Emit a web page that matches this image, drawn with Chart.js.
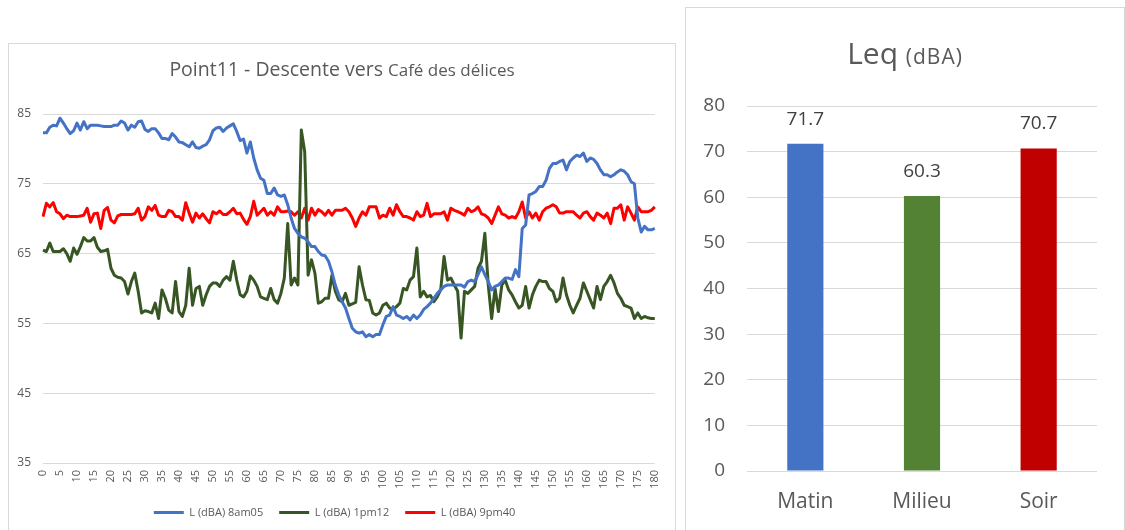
<!DOCTYPE html>
<html>
<head>
<meta charset="utf-8">
<script src="https://cdn.jsdelivr.net/npm/chart.js@4.4.1/dist/chart.umd.min.js"></script>
<style>
  html, body { margin: 0; padding: 0; background: #fff; overflow: hidden; }
  .panel { position: absolute; border: 1px solid #d9d9d9; background: #fff; }
  #trendBox { left: 8px; top: 43px; width: 666px; height: 486px; }
  #leqBox { left: 685px; top: 7px; width: 438px; height: 522px; }
</style>
</head>
<body>
<div class="panel" id="trendBox"><canvas id="trend"></canvas></div>
<div class="panel" id="leqBox"><canvas id="leq"></canvas></div>
<script>
// minutes along the walk, one reading per minute
const minutes = Array.from({length: 181}, (_, i) => i);

const morning = [
  82.3, 82.3, 83.1, 83.4, 83.3, 84.4, 83.7, 82.9, 82.2, 82.6,
  83.7, 82.7, 83.9, 82.9, 83.4, 83.4, 83.4, 83.3, 83.2, 83.2,
  83.2, 83.4, 83.4, 84.0, 83.7, 82.7, 83.4, 83.1, 83.9, 84.0,
  82.8, 82.5, 82.9, 82.9, 82.3, 81.5, 81.5, 81.3, 82.2, 81.7,
  81.0, 80.9, 80.6, 80.3, 81.0, 80.2, 80.1, 80.4, 80.6, 81.3,
  82.6, 83.0, 83.1, 82.5, 83.0, 83.3, 83.6, 82.5, 81.2, 81.4,
  79.4, 81.0, 78.7, 77.0, 75.8, 75.5, 73.6, 73.6, 74.4, 73.4,
  73.2, 73.4, 72.0, 70.1, 68.6, 67.9, 67.4, 67.2, 66.7, 66.0,
  66.0, 65.3, 64.8, 64.7, 63.9, 62.4, 60.5, 59.1, 58.1, 57.2,
  55.7, 54.3, 53.8, 53.6, 53.8, 53.1, 53.4, 53.1, 53.4, 53.4,
  54.8, 56.0, 56.2, 57.4, 56.2, 56.0, 55.7, 56.0, 55.5, 56.2,
  55.7, 56.2, 57.0, 57.4, 57.9, 58.6, 59.3, 59.8, 60.3, 60.5,
  60.5, 60.5, 60.5, 60.5, 60.2, 61.0, 61.2, 61.0, 62.0, 63.1,
  62.0, 61.0, 59.8, 60.3, 60.5, 61.0, 61.5, 61.5, 61.3, 62.7,
  61.7, 68.6, 69.1, 73.4, 73.6, 73.9, 74.6, 74.6, 75.5, 77.2,
  77.9, 77.9, 78.2, 78.4, 77.0, 78.2, 78.7, 79.1, 78.9, 79.4,
  78.2, 78.7, 78.5, 77.9, 77.0, 76.3, 76.3, 76.0, 76.3, 76.7,
  77.0, 76.8, 76.3, 75.3, 75.0, 70.1, 68.1, 68.9, 68.4, 68.4,
  68.6
];

const midday = [
  65.5, 65.3, 66.5, 65.3, 65.3, 65.3, 65.7, 65.0, 63.9, 65.8,
  64.9, 66.0, 67.3, 66.8, 66.8, 67.3, 65.9, 65.3, 65.4, 65.6,
  62.9, 61.9, 61.6, 61.5, 61.0, 59.2, 61.0, 62.2, 59.6, 56.5,
  56.8, 56.7, 56.5, 57.9, 55.7, 59.8, 58.6, 56.9, 56.5, 61.0,
  56.7, 56.0, 57.6, 62.9, 57.6, 60.0, 60.3, 57.6, 59.1, 60.3,
  60.8, 60.8, 60.3, 61.2, 61.7, 61.2, 63.9, 61.2, 59.1, 58.8,
  59.6, 61.8, 61.2, 60.3, 58.8, 58.6, 58.4, 60.0, 58.4, 57.9,
  59.3, 61.5, 69.3, 60.5, 61.5, 60.5, 82.7, 79.6, 61.9, 64.1,
  62.2, 57.9, 58.1, 58.6, 58.6, 61.9, 59.6, 58.4, 58.1, 59.3,
  57.6, 57.8, 58.0, 63.1, 60.5, 58.4, 58.3, 56.5, 56.2, 56.5,
  57.6, 57.9, 57.2, 57.0, 57.4, 57.9, 60.0, 59.8, 61.2, 61.7,
  65.8, 58.8, 59.6, 58.8, 59.0, 58.1, 58.8, 59.8, 64.6, 61.2,
  61.5, 60.5, 59.6, 52.9, 59.6, 59.3, 59.8, 60.3, 62.9, 63.9,
  67.9, 60.5, 55.7, 60.0, 56.7, 60.5, 61.2, 59.8, 59.1, 58.1,
  57.2, 57.6, 60.3, 57.2, 59.1, 60.3, 61.2, 61.0, 61.0, 60.0,
  59.6, 58.1, 58.6, 61.5, 59.1, 57.6, 56.5, 57.6, 58.6, 60.8,
  59.6, 58.4, 57.2, 60.3, 58.4, 60.3, 61.0, 61.9, 60.8, 59.3,
  58.6, 57.6, 57.4, 57.2, 55.7, 56.5, 55.7, 56.0, 55.8, 55.7,
  55.7
];

const evening = [
  70.3, 72.2, 71.7, 72.3, 71.0, 70.7, 70.0, 70.5, 70.3, 70.3,
  70.3, 70.4, 70.5, 71.5, 69.5, 70.7, 70.8, 68.6, 71.2, 71.6,
  69.8, 69.4, 70.4, 70.6, 70.6, 70.6, 70.6, 70.7, 71.5, 69.8,
  70.3, 71.7, 71.2, 71.9, 70.5, 70.3, 70.3, 71.2, 71.0, 70.3,
  70.3, 69.8, 72.3, 70.8, 69.5, 70.8, 70.1, 70.7, 70.0, 69.4,
  71.0, 70.7, 71.1, 70.6, 70.6, 71.0, 71.5, 70.7, 70.8, 69.9,
  69.2, 70.3, 72.5, 70.5, 71.0, 71.5, 70.5, 71.0, 70.5, 71.7,
  71.0, 71.0, 71.1, 71.0, 70.5, 71.0, 70.1, 71.5, 69.8, 71.5,
  70.5, 71.3, 71.0, 70.5, 71.2, 70.5, 71.2, 71.2, 71.2, 71.5,
  71.0, 70.1, 68.9, 70.1, 71.0, 70.5, 71.7, 71.7, 71.7, 70.1,
  70.5, 70.3, 71.5, 70.5, 72.0, 71.0, 70.3, 70.3, 70.1, 69.8,
  71.0, 70.3, 70.5, 72.2, 70.3, 70.7, 70.7, 70.7, 71.0, 69.8,
  71.5, 71.2, 71.0, 70.8, 70.5, 71.5, 71.0, 71.2, 71.7, 70.7,
  70.5, 70.1, 69.3, 70.5, 71.7, 70.7, 70.5, 70.1, 70.3, 70.1,
  71.0, 72.4, 70.1, 71.0, 70.1, 70.8, 69.8, 71.0, 71.5, 71.7,
  72.0, 71.7, 70.8, 70.8, 71.0, 71.0, 71.0, 70.5, 70.1, 70.8,
  71.0, 70.3, 69.8, 70.8, 70.5, 70.1, 70.8, 69.3, 71.5, 71.5,
  72.0, 69.8, 71.7, 70.8, 69.8, 71.7, 71.0, 71.0, 71.0, 71.2,
  71.7
];

const periods = ['Matin', 'Milieu', 'Soir'];
const leqValues = [71.7, 60.3, 70.7];
const leqColors = ['#4472C4', '#548235', '#C00000'];

const FONT = '"Open Sans", sans-serif';
const TEXT = '#595959';
const GRID = '#d9d9d9';

// title drawn in pieces so each piece can have its own size
const splitTitle = {
  id: 'splitTitle',
  afterDraw(chart, args, opts) {
    const ctx = chart.ctx;
    ctx.save();
    ctx.fillStyle = opts.color;
    ctx.textAlign = 'left';
    ctx.textBaseline = 'alphabetic';
    const setFont = p => {
      ctx.font = p.size + 'px ' + FONT;
      ctx.letterSpacing = (p.spacing || 0) + 'px';
    };
    const widths = opts.parts.map(p => {
      setFont(p);
      return ctx.measureText(p.text).width;
    });
    let x = chart.width / 2 - widths.reduce((a, b) => a + b, 0) / 2;
    opts.parts.forEach((p, i) => {
      setFont(p);
      ctx.fillText(p.text, x, opts.y);
      x += widths[i];
    });
    ctx.restore();
  }
};

const barValues = {
  id: 'barValues',
  afterDatasetsDraw(chart, args, opts) {
    const ctx = chart.ctx;
    const ds = chart.data.datasets[0];
    ctx.save();
    ctx.font = opts.size + 'px ' + FONT;
    ctx.fillStyle = opts.color;
    ctx.textAlign = 'center';
    ctx.textBaseline = 'alphabetic';
    chart.getDatasetMeta(0).data.forEach((bar, i) => {
      ctx.fillText(ds.data[i].toFixed(1), bar.x, bar.y - opts.gap);
    });
    ctx.restore();
  }
};

function series(label, data, color) {
  return {
    label, data,
    borderColor: color,
    backgroundColor: color,
    borderWidth: 3,
    pointRadius: 0,
    tension: 0,
    borderJoinStyle: 'round'
  };
}

new Chart(document.getElementById('trend'), {
  type: 'line',
  data: {
    labels: minutes,
    datasets: [
      series('L (dBA) 8am05', morning, '#4472C4'),
      series('L (dBA) 1pm12', midday, '#375623'),
      series('L (dBA) 9pm40', evening, '#FF0000')
    ]
  },
  plugins: [splitTitle],
  options: {
    responsive: true,
    maintainAspectRatio: false,
    animation: false,
    layout: { padding: { top: 70, right: 15, left: 0, bottom: 2 } },
    scales: {
      x: {
        offset: false,
        grid: { display: false, drawTicks: false },
        border: { display: false },
        ticks: {
          autoSkip: false,
          minRotation: 90,
          maxRotation: 90,
          padding: 7,
          color: TEXT,
          font: { family: FONT, size: 11 },
          callback: (v, i) => (i % 5 === 0 ? String(minutes[i]) : '')
        },
        afterFit: s => { s.height = 28; }
      },
      y: {
        min: 35,
        max: 85,
        grid: { color: GRID, drawTicks: false },
        border: { display: false },
        ticks: { stepSize: 10, padding: 12, color: TEXT, font: { family: FONT, size: 12 } },
        afterFit: s => { s.width = 34; }
      }
    },
    plugins: {
      tooltip: { enabled: false },
      legend: {
        position: 'bottom',
        labels: {
          usePointStyle: true,
          pointStyle: 'line',
          pointStyleWidth: 30,
          padding: 16,
          color: TEXT,
          font: { family: FONT, size: 11 }
        }
      },
      splitTitle: {
        y: 32,
        color: TEXT,
        parts: [
          { text: 'Point11 - Descente vers ', size: 19.5 },
          { text: 'Café des délices', size: 17 }
        ]
      }
    }
  }
});

new Chart(document.getElementById('leq'), {
  type: 'bar',
  data: {
    labels: periods,
    datasets: [{
      label: 'Leq',
      data: leqValues,
      backgroundColor: leqColors,
      barPercentage: 0.31,
      categoryPercentage: 1
    }]
  },
  plugins: [splitTitle, barValues],
  options: {
    responsive: true,
    maintainAspectRatio: false,
    animation: false,
    layout: { padding: { top: 98, right: 27, left: 0, bottom: 0 } },
    scales: {
      x: {
        grid: { display: false, drawTicks: false },
        border: { display: false },
        ticks: { padding: 18, color: TEXT, font: { family: FONT, size: 21 } },
        afterFit: s => { s.height = 59; }
      },
      y: {
        min: 0,
        max: 80,
        grid: { color: GRID, drawTicks: false },
        border: { display: false },
        ticks: { stepSize: 10, padding: 22, color: TEXT, font: { family: FONT, size: 19 } },
        afterFit: s => { s.width = 61; }
      }
    },
    plugins: {
      tooltip: { enabled: false },
      legend: { display: false },
      barValues: { size: 19, color: '#404040', gap: 19 },
      splitTitle: {
        y: 56,
        color: TEXT,
        parts: [
          { text: 'Leq ', size: 30 },
          { text: '(dBA)', size: 21, spacing: 1 }
        ]
      }
    }
  }
});
</script>
</body>
</html>
